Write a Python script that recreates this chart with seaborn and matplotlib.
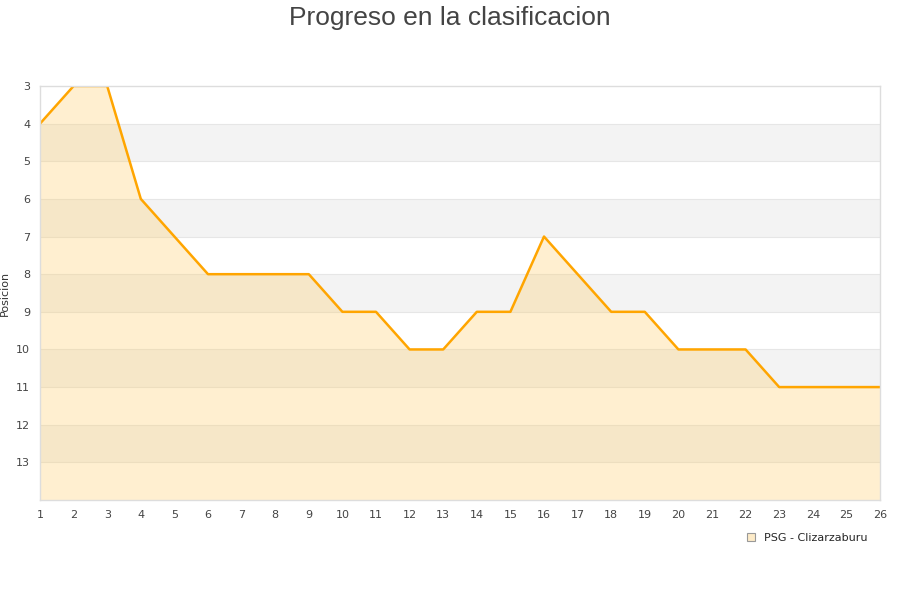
import matplotlib
matplotlib.use("Agg")
import matplotlib.pyplot as plt
import seaborn as sns
import pandas as pd
from matplotlib.patches import Patch

# datos
jornadas = list(range(1, 27))
posiciones = [4, 3, 3, 6, 7, 8, 8, 8, 8, 9, 9, 10, 10, 9, 9, 7, 8, 9, 9, 10, 10, 10, 11, 11, 11, 11]
equipo = 'PSG - Clizarzaburu'
y_ticks = list(range(3, 14))

sns.set_style('white')
plt.rcParams['font.family'] = ['DejaVu Sans']

df = pd.DataFrame({'jornada': jornadas, 'posicion': posiciones})

fig = plt.figure(figsize=(9, 6), dpi=100)
ax = fig.add_axes([40 / 900, 100 / 600, 840 / 900, 414 / 600])

# franjas alternas
for i in range(3, 14):
    if i % 2 == 0:
        ax.axhspan(i, i + 1, color='#f3f3f3', zorder=0, lw=0)
for i in range(4, 14):
    ax.axhline(i, color='#e6e6e6', lw=0.8, zorder=0.5)

ax.fill_between(df['jornada'], df['posicion'], 14, color='#ffcc66', alpha=0.3, lw=0, zorder=1)
sns.lineplot(data=df, x='jornada', y='posicion', color='#ffa500', lw=1.8, ax=ax, zorder=2)

ax.set_xlim(1, 26)
ax.set_ylim(14, 3)
ax.set_xticks(jornadas)
ax.set_yticks(y_ticks)
ax.tick_params(labelsize=8, colors='#444444', length=0, pad=7)
ax.set_xlabel('')
ax.set_ylabel('Posicion', fontsize=8, color='#333333')
ax.yaxis.set_label_coords(-0.036, 0.5)
for s in ax.spines.values():
    s.set_color('#dddddd')
    s.set_linewidth(1)
    s.set_zorder(3)

fig.suptitle('Progreso en la clasificacion', fontsize=19, color='#444444', y=0.99,
             family=['Liberation Sans', 'DejaVu Sans'])

handle = Patch(facecolor='#fdebc8', edgecolor='#999999', lw=0.8)
fig.legend([handle], [equipo], loc='center right', bbox_to_anchor=(0.975, 0.103),
           frameon=False, fontsize=8, handlelength=0.7, handleheight=0.7, handletextpad=0.8)

plt.savefig('out.png', dpi=100)
